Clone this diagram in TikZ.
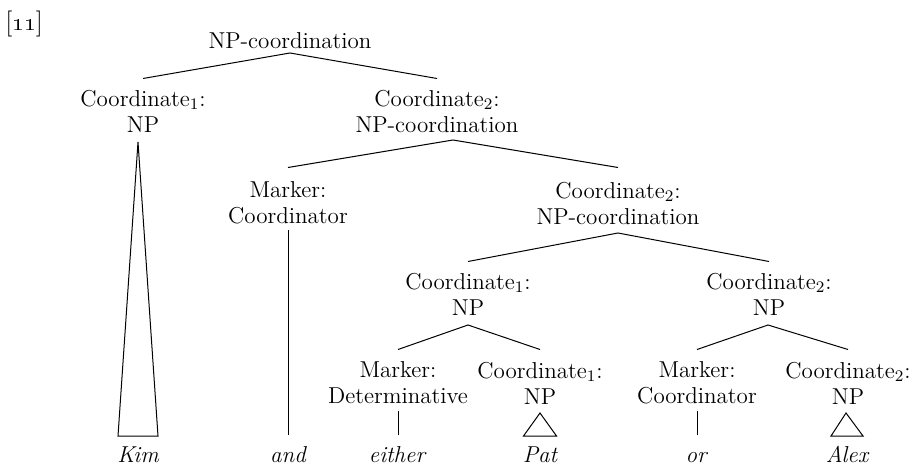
\documentclass[tikz,border=0pt]{standalone}
\usepackage{tikz}

\begin{document}
\begin{tikzpicture}[
  x=0.5pt, y=-0.5pt,
  %% category label: function over category
  cat/.style={
    align=center, inner sep=0pt, anchor=north,
    font=\fontsize{11.5}{13}\selectfont
  },
  %% the words at the bottom
  leaf/.style={
    inner sep=0pt, anchor=base,
    font=\fontsize{11.5}{13}\selectfont\itshape
  },
  branch/.style={line width=0.5pt, line join=miter},
]

\useasboundingbox (0,0) rectangle (914,464);

%% ── Example number ───────────────────────────────────────────────────────────
\node[inner sep=0pt, anchor=base west, font=\fontsize{13}{15}\selectfont]
  (exno) at (5,31) {[\oldstylenums{11}]};

%% ── Category nodes (x = centre, y = top of text) ─────────────────────────────
\node[cat] (root)  at (290,32.5)  {NP-coordination};

\node[cat] (co1)   at (143,89.5)  {Coordinate\textsubscript{1}:\\NP};
\node[cat] (co2)   at (437,89.5)  {Coordinate\textsubscript{2}:\\NP-coordination};

\node[cat] (mkA)   at (288,181.5) {Marker:\\Coordinator};
\node[cat] (co22)  at (618,181.5) {Coordinate\textsubscript{2}:\\NP-coordination};

\node[cat] (co221) at (468,272.5) {Coordinate\textsubscript{1}:\\NP};
\node[cat] (co222) at (769,272.5) {Coordinate\textsubscript{2}:\\NP};

\node[cat] (mkB)   at (398,361.5) {Marker:\\Determinative};
\node[cat] (coB1)  at (540,361.5) {Coordinate\textsubscript{1}:\\NP};
\node[cat] (mkC)   at (697,361.5) {Marker:\\Coordinator};
\node[cat] (coC2)  at (848,361.5) {Coordinate\textsubscript{2}:\\NP};

%% ── Words ────────────────────────────────────────────────────────────────────
\node[leaf] (kim)    at (138,462) {Kim};
\node[leaf] (and)    at (288,462) {and};
\node[leaf] (either) at (397,462) {either};
\node[leaf] (pat)    at (540,462) {Pat};
\node[leaf] (or)     at (696,462) {or};
\node[leaf] (alex)   at (847,462) {Alex};

%% ── Branching points below each node ─────────────────────────────────────────
\coordinate (root-b)  at (290,53);
\coordinate (co1-b)   at (138,142);
\coordinate (co2-b)   at (453,140);
\coordinate (mkA-b)   at (288,230);
\coordinate (co22-b)  at (618,233);
\coordinate (co221-b) at (468,325);
\coordinate (co222-b) at (768,325);
\coordinate (mkB-b)   at (398,411);
\coordinate (coB1-b)  at (540,413);
\coordinate (mkC-b)   at (697,411);
\coordinate (coC2-b)  at (846,413);

%% ── Branches ─────────────────────────────────────────────────────────────────
\draw[branch] ([yshift=5.5pt]co1.north) -- (root-b) -- ([yshift=5.5pt]co2.north);
\draw[branch] ([yshift=7pt]mkA.north) -- (co2-b) -- ([yshift=7pt]co22.north);
\draw[branch] ([yshift=5.5pt]co221.north) -- (co22-b) -- ([yshift=5.5pt]co222.north);
\draw[branch] ([yshift=6pt]mkB.north) -- (co221-b) -- ([yshift=6pt]coB1.north);
\draw[branch] ([yshift=6pt]mkC.north) -- (co222-b) -- ([yshift=6pt]coC2.north);

%% single words (kept vertical)
\draw[branch] (mkA-b) -- ([yshift=13.5pt]and.base -| mkA-b);
\draw[branch] (mkB-b) -- ([yshift=13.5pt]either.base -| mkB-b);
\draw[branch] (mkC-b) -- ([yshift=13.5pt]or.base -| mkC-b);

%% roofs
\draw[branch] (co1-b) -- ([xshift=-10pt, yshift=13pt]kim.base)
  -- ([xshift=10pt, yshift=13pt]kim.base) -- cycle;
\draw[branch] (coB1-b) -- ([xshift=-8.25pt, yshift=13pt]pat.base)
  -- ([xshift=8.25pt, yshift=13pt]pat.base) -- cycle;
\draw[branch] (coC2-b) -- ([xshift=-8pt, yshift=13pt]alex.base)
  -- ([xshift=8pt, yshift=13pt]alex.base) -- cycle;

\end{tikzpicture}
\end{document}
